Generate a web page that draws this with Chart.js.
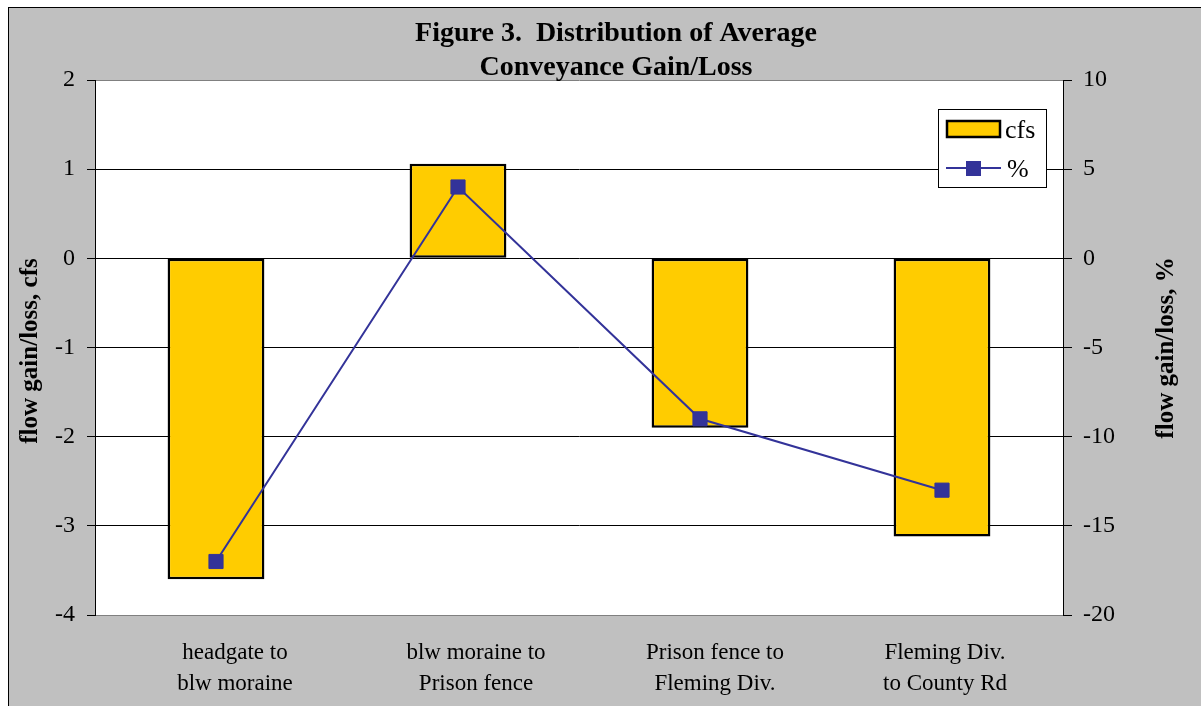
<!DOCTYPE html>
<html>
<head>
<meta charset="utf-8">
<script src="https://cdn.jsdelivr.net/npm/chart.js@4/dist/chart.umd.min.js"></script>
<style>
  html, body { margin: 0; padding: 0; background: #ffffff; }
  canvas { display: block; }
</style>
</head>
<body>
<canvas id="chart" width="1201" height="706"></canvas>
<script>
// Reach segments along the ditch
const categories = [
  ['headgate to', 'blw moraine'],
  ['blw moraine to', 'Prison fence'],
  ['Prison fence to', 'Fleming Div.'],
  ['Fleming Div.', 'to County Rd']
];
// Average gain/loss per reach
const cfsValues = [-3.6, 1.06, -1.9, -3.12];
const pctValues = [-17, 4, -9, -13];
// Axis tick settings
const cfsTicks = { min: -4, max: 2, step: 1 };
const pctTicks = { min: -20, max: 10, step: 5 };

const titleLines = ['Figure 3.  Distribution of Average', 'Conveyance Gain/Loss'];
const leftAxisTitle = 'flow gain/loss, cfs';
const rightAxisTitle = 'flow gain/loss, %';

const SERIF = '"Liberation Serif", "Times New Roman", serif';
const BAR_FILL = '#FFCC00';
const LINE_COLOR = '#333399';
// horizontal nudge of each wrapped category label, px
const labelNudge = [19, 18, 15, 3];

// Grey frame, chart title, rotated axis titles, category labels and the boxed legend
const decorations = {
  id: 'decorations',
  beforeDraw(chart) {
    const ctx = chart.ctx;
    ctx.save();
    ctx.fillStyle = '#ffffff';
    ctx.fillRect(0, 0, chart.width, chart.height);
    ctx.fillStyle = '#C0C0C0';
    ctx.fillRect(8, 7, chart.width, chart.height);
    ctx.strokeStyle = '#000000';
    ctx.lineWidth = 1;
    ctx.strokeRect(8.5, 7.5, chart.width + 10, chart.height + 10);
    const a = chart.chartArea;
    ctx.fillStyle = '#ffffff';
    ctx.fillRect(a.left, a.top, a.right - a.left, a.bottom - a.top);
    ctx.restore();
  },
  afterDraw(chart) {
    const ctx = chart.ctx;
    ctx.save();
    ctx.fillStyle = '#000000';
    ctx.textAlign = 'center';
    ctx.textBaseline = 'alphabetic';
    ctx.font = 'bold 28px ' + SERIF;
    titleLines.forEach((t, i) => ctx.fillText(t, 616, 41 + i * 34));

    const a = chart.chartArea;
    ctx.textBaseline = 'middle';
    ctx.font = 'bold 25px ' + SERIF;
    [[31, 351, leftAxisTitle], [1167, 348, rightAxisTitle]].forEach(([x, y, t]) => {
      ctx.save();
      ctx.translate(x, y);
      ctx.rotate(-Math.PI / 2);
      ctx.fillText(t, 0, 0);
      ctx.restore();
    });

    // category labels under the plot
    const xs = chart.scales.x;
    ctx.font = '23px ' + SERIF;
    chart.data.labels.forEach((lines, i) => {
      const cx = xs.getPixelForValue(i) + labelNudge[i];
      lines.forEach((t, j) => ctx.fillText(t, cx, a.bottom + 38 + j * 31));
    });

    // legend
    const lx = 938.5, ly = 109.5, lw = 108, lh = 78;
    ctx.fillStyle = '#ffffff';
    ctx.fillRect(lx, ly, lw, lh);
    ctx.strokeStyle = '#000000';
    ctx.lineWidth = 1;
    ctx.strokeRect(lx, ly, lw, lh);
    const ds = chart.data.datasets;
    ctx.fillStyle = ds[0].backgroundColor;
    ctx.fillRect(947, 121, 53, 16);
    ctx.lineWidth = 2.5;
    ctx.strokeStyle = ds[0].borderColor;
    ctx.strokeRect(947, 121, 53, 16);
    ctx.strokeStyle = ds[1].borderColor;
    ctx.lineWidth = 2;
    ctx.beginPath();
    ctx.moveTo(946, 168);
    ctx.lineTo(1001, 168);
    ctx.stroke();
    ctx.fillStyle = ds[1].pointBackgroundColor;
    ctx.fillRect(966, 161, 15, 15);
    ctx.fillStyle = '#000000';
    ctx.textAlign = 'left';
    ctx.font = '26px ' + SERIF;
    ctx.fillText(ds[0].label, 1005, 131);
    ctx.fillText(ds[1].label, 1007, 170);
    ctx.restore();
  }
};

new Chart(document.getElementById('chart'), {
  type: 'bar',
  data: {
    labels: categories,
    datasets: [
      {
        type: 'bar',
        label: 'cfs',
        data: cfsValues,
        yAxisID: 'y',
        backgroundColor: BAR_FILL,
        borderColor: '#000000',
        borderWidth: 2.5,
        borderSkipped: false,
        barPercentage: 0.4,
        categoryPercentage: 1.0,
        order: 2
      },
      {
        type: 'line',
        label: '%',
        data: pctValues,
        yAxisID: 'y1',
        borderColor: LINE_COLOR,
        borderWidth: 2,
        pointStyle: 'rect',
        pointRadius: 10,
        pointBackgroundColor: LINE_COLOR,
        pointBorderColor: LINE_COLOR,
        pointBorderWidth: 1,
        tension: 0,
        order: 1
      }
    ]
  },
  options: {
    responsive: false,
    devicePixelRatio: 1,
    animation: false,
    layout: { padding: { left: 10, right: 0, top: 80, bottom: 0 } },
    plugins: {
      legend: { display: false },
      title: { display: false },
      tooltip: { enabled: false }
    },
    scales: {
      x: {
        afterFit: s => { s.height = 91; },
        grid: { display: false },
        border: { display: true, color: '#808080', width: 1 },
        ticks: { display: false }
      },
      y: {
        position: 'left',
        min: cfsTicks.min,
        max: cfsTicks.max,
        afterFit: s => { s.width = 85; },
        grid: {
          color: c => (c.tick && (c.tick.value === cfsTicks.min || c.tick.value === cfsTicks.max)) ? '#808080' : '#000000',
          tickColor: '#000000',
          tickLength: 8,
          lineWidth: 1
        },
        border: { display: true, color: '#000000', width: 1 },
        ticks: {
          stepSize: cfsTicks.step,
          color: '#000000',
          font: { family: SERIF, size: 24 },
          padding: 12
        }
      },
      y1: {
        position: 'right',
        min: pctTicks.min,
        max: pctTicks.max,
        afterFit: s => { s.width = 138; },
        grid: {
          drawOnChartArea: false,
          tickColor: '#000000',
          tickLength: 9,
          lineWidth: 1
        },
        border: { display: true, color: '#000000', width: 1 },
        ticks: {
          stepSize: pctTicks.step,
          color: '#000000',
          font: { family: SERIF, size: 24 },
          padding: 11
        }
      }
    }
  },
  plugins: [decorations]
});
</script>
</body>
</html>
